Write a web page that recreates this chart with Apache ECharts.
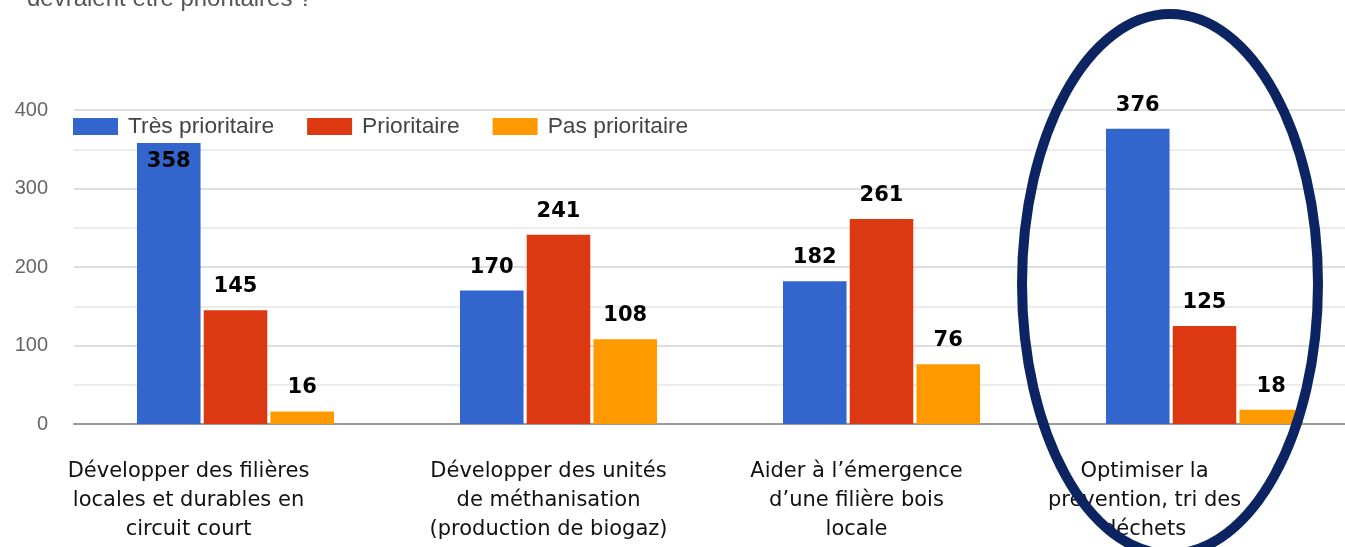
<!DOCTYPE html>
<html>
<head>
    <meta charset="utf-8">
    <script src="https://cdn.jsdelivr.net/npm/echarts@6/dist/echarts.min.js"></script>
    <style>
        html, body { margin: 0; padding: 0; background: #fff; }
        #container { width: 1345px; height: 547px; }
    </style>
</head>
<body>
    <div id="container"></div>
    <script type="text/javascript">
        // data
        var categories = [
            'Développer des filières\nlocales et durables en\ncircuit court',
            'Développer des unités\nde méthanisation\n(production de biogaz)',
            'Aider à l’émergence\nd’une filière bois\nlocale',
            'Optimiser la\nprevention, tri des\ndéchets'
        ];
        var seriesNames = ['Très prioritaire', 'Prioritaire', 'Pas prioritaire'];
        var tresPrioritaire = [358, 170, 182, 376];
        var prioritaire = [145, 241, 261, 125];
        var pasPrioritaire = [16, 108, 76, 18];
        var yTicks = [0, 100, 200, 300, 400];

        // manual shift of the category captions (they are text boxes in the original)
        var labelShift = [-47, -10, -25, -60];

        var dom = document.getElementById('container');
        var myChart = echarts.init(dom, null, { renderer: 'canvas' });

        var valueLabel = {
            show: true,
            position: 'top',
            distance: 13,
            fontFamily: 'DejaVu Sans',
            fontWeight: 'bold',
            fontSize: 21,
            color: '#000'
        };

        var rich = {};
        labelShift.forEach(function (s, i) {
            rich['c' + i] = {
                fontFamily: 'DejaVu Sans',
                fontSize: 21,
                lineHeight: 29,
                color: '#111',
                padding: s < 0 ? [0, -2 * s, 0, 0] : [0, 0, 0, 2 * s]
            };
        });

        var first = tresPrioritaire.map(function (v, i) {
            if (i === 0) {
                // the 358 label sits inside the top of its bar
                return { value: v, label: { position: 'insideTop', distance: 8 } };
            }
            return v;
        });

        var option = {
            animation: false,
            color: ['#3366cc', '#dc3912', '#ff9900'],
            title: {
                text: 'devraient être prioritaires ?',
                left: 22,
                top: -18,
                textStyle: { fontFamily: 'Liberation Sans', fontSize: 24, fontWeight: 'normal', color: '#555' }
            },
            legend: {
                left: 73,
                top: 115,
                padding: 0,
                itemWidth: 45,
                itemHeight: 17,
                itemGap: 33,
                icon: 'rect',
                data: seriesNames,
                textStyle: { fontFamily: 'Liberation Sans', fontSize: 22.8, color: '#444', padding: [0, 0, 0, 5] }
            },
            grid: { left: 74, width: 1292, top: 110, bottom: 123, containLabel: false, outerBoundsMode: 'none' },
            xAxis: {
                type: 'category',
                data: categories,
                axisTick: { show: false },
                axisLine: { lineStyle: { color: '#999', width: 2 } },
                axisLabel: {
                    margin: 33,
                    interval: 0,
                    formatter: function (val, idx) {
                        return val.split('\n').map(function (l) { return '{c' + idx + '|' + l + '}'; }).join('\n');
                    },
                    rich: rich
                }
            },
            yAxis: {
                type: 'value',
                min: yTicks[0],
                max: yTicks[yTicks.length - 1],
                interval: 100,
                axisLine: { show: false },
                axisTick: { show: false },
                axisLabel: { margin: 26, fontFamily: 'Liberation Sans', fontSize: 20, color: '#666' },
                splitLine: { lineStyle: { color: '#dedede', width: 2 } },
                minorTick: { show: false, splitNumber: 2 },
                minorSplitLine: { show: true, lineStyle: { color: '#ececec', width: 2 } }
            },
            series: [
                { name: seriesNames[0], type: 'bar', data: first, label: valueLabel, barGap: '5%', barCategoryGap: '39%' },
                { name: seriesNames[1], type: 'bar', data: prioritaire, label: valueLabel, barGap: '5%', barCategoryGap: '39%' },
                { name: seriesNames[2], type: 'bar', data: pasPrioritaire, label: valueLabel, barGap: '5%', barCategoryGap: '39%' }
            ],
            graphic: [
                {
                    type: 'ellipse',
                    z: 100,
                    shape: { cx: 1170, cy: 284, rx: 148, ry: 270 },
                    style: { fill: 'none', stroke: '#0c2462', lineWidth: 10 }
                }
            ]
        };

        myChart.setOption(option);
        window.addEventListener('resize', myChart.resize);
    </script>
</body>
</html>
